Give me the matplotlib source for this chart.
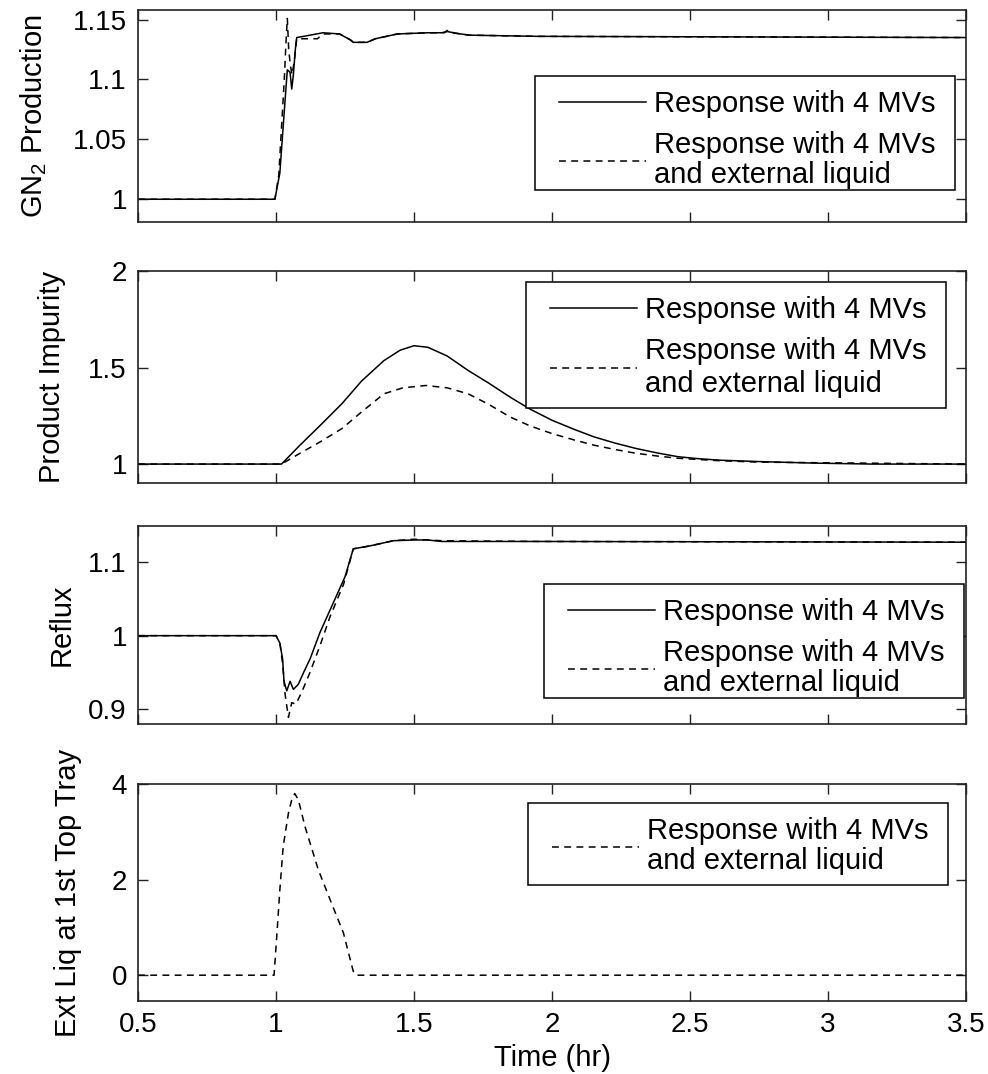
import matplotlib
matplotlib.use("Agg")
import matplotlib.pyplot as plt
from matplotlib.patches import Rectangle
from matplotlib.transforms import IdentityTransform

plt.rcParams["font.family"] = ["Liberation Sans", "DejaVu Sans"]
plt.rcParams["mathtext.fontset"] = "custom"
plt.rcParams["mathtext.rm"] = "Liberation Sans"
plt.rcParams["mathtext.default"] = "regular"

# ---- data (time in hours) ----
label_mv = "Response with 4 MVs"
label_ext = "Response with 4 MVs\nand external liquid"

# GN2 production
t_gn2_mv = [0.5, 0.996, 1.014, 1.027, 1.033, 1.041, 1.051, 1.057, 1.063, 1.070, 1.075,
            1.10, 1.17, 1.23, 1.27, 1.28, 1.33, 1.36, 1.44, 1.55, 1.60, 1.62, 1.67,
            1.70, 1.95, 3.5]
gn2_mv = [1.0, 1.0, 1.022, 1.064, 1.083, 1.108, 1.106, 1.092, 1.104, 1.125, 1.135,
          1.136, 1.139, 1.138, 1.133, 1.131, 1.131, 1.134, 1.138, 1.139, 1.139, 1.140,
          1.138, 1.137, 1.136, 1.135]
t_gn2_ext = [0.5, 0.996, 1.010, 1.020, 1.030, 1.036, 1.041, 1.046, 1.052, 1.058, 1.066,
             1.075, 1.10, 1.15, 1.17, 1.23, 1.27, 1.28, 1.33, 1.36, 1.44, 1.55, 1.61,
             1.62, 1.63, 1.67, 1.70, 1.95, 3.5]
gn2_ext = [1.0, 1.0, 1.020, 1.060, 1.100, 1.130, 1.151, 1.125, 1.112, 1.104, 1.115,
           1.134, 1.134, 1.134, 1.138, 1.138, 1.133, 1.131, 1.131, 1.134, 1.138, 1.139,
           1.139, 1.141, 1.139, 1.138, 1.137, 1.136, 1.135]

# Product impurity
t_imp_mv = [0.5, 1.02, 1.087, 1.16, 1.239, 1.31, 1.391, 1.45, 1.50, 1.55, 1.62, 1.696,
            1.77, 1.848, 1.92, 2.0, 2.08, 2.152, 2.23, 2.304, 2.38, 2.457, 2.53, 2.61,
            2.75, 2.95, 3.16, 3.5]
imp_mv = [1.0, 1.0, 1.098, 1.20, 1.313, 1.43, 1.536, 1.59, 1.613, 1.605, 1.56, 1.485,
          1.42, 1.347, 1.285, 1.227, 1.18, 1.141, 1.108, 1.081, 1.058, 1.038, 1.028,
          1.02, 1.013, 1.005, 1.0, 1.0]
t_imp_ext = [0.5, 1.02, 1.087, 1.16, 1.239, 1.31, 1.391, 1.46, 1.543, 1.62, 1.696, 1.77,
             1.848, 1.92, 2.0, 2.08, 2.152, 2.23, 2.304, 2.38, 2.457, 2.6, 2.75, 3.5]
imp_ext = [1.0, 1.0, 1.056, 1.115, 1.184, 1.27, 1.364, 1.395, 1.407, 1.395, 1.364, 1.31,
           1.244, 1.198, 1.158, 1.125, 1.098, 1.075, 1.056, 1.042, 1.03, 1.018, 1.01, 1.0]

# Reflux
t_ref_mv = [0.5, 1.0, 1.014, 1.024, 1.029, 1.039, 1.051, 1.063, 1.081, 1.10, 1.123,
            1.159, 1.196, 1.25, 1.28, 1.341, 1.425, 1.50, 1.55, 1.60, 1.95, 3.5]
ref_mv = [1.0, 1.0, 0.990, 0.968, 0.938, 0.925, 0.938, 0.927, 0.934, 0.950, 0.968,
          1.004, 1.035, 1.080, 1.118, 1.122, 1.129, 1.130, 1.130, 1.128, 1.128, 1.127]
t_ref_ext = [0.5, 1.0, 1.014, 1.024, 1.033, 1.045, 1.057, 1.072, 1.093, 1.123, 1.159,
             1.196, 1.245, 1.28, 1.341, 1.425, 1.50, 1.60, 1.95, 3.5]
ref_ext = [1.0, 1.0, 0.990, 0.962, 0.920, 0.889, 0.909, 0.907, 0.923, 0.950, 0.986,
           1.026, 1.070, 1.118, 1.122, 1.129, 1.131, 1.129, 1.128, 1.127]

# External liquid at the first top tray
t_liq_ext = [0.5, 0.993, 1.002, 1.014, 1.026, 1.045, 1.057, 1.068, 1.081, 1.105, 1.153,
             1.196, 1.244, 1.28, 1.29, 3.5]
liq_ext = [0.0, 0.0, 0.75, 1.79, 2.69, 3.39, 3.67, 3.80, 3.67, 3.11, 2.21, 1.58, 0.89,
           0.08, 0.0, 0.0]

x_ticks = [0.5, 1, 1.5, 2, 2.5, 3, 3.5]
x_tick_labels = ["0.5", "1", "1.5", "2", "2.5", "3", "3.5"]

# ---- figure ----
W, H = 988, 1074
fig = plt.figure(figsize=(W / 100, H / 100), dpi=100)

FS_TICK = 20
FS_TEXT = 21
dash = (0, (4.5, 3.5))
LEFT, RIGHT = 138, 966


def axes_px(left, top, right, bottom):
    return fig.add_axes([left / W, 1 - bottom / H, (right - left) / W, (bottom - top) / H])


def style(ax, ylim, yticks, yticklabels, ylabel, label_cx):
    ax.set_xlim(0.5, 3.5)
    ax.set_ylim(*ylim)
    ax.set_xticks(x_ticks)
    ax.set_yticks(yticks)
    ax.set_yticklabels(yticklabels)
    ax.tick_params(direction="in", length=7, width=1.0, top=True, right=True,
                   labelsize=FS_TICK, pad=8, colors="#222222", labelcolor="black")
    for sp in ax.spines.values():
        sp.set_linewidth(1.2)
        sp.set_color("#222222")
    ax.set_ylabel(ylabel, fontsize=FS_TEXT)
    # right edge of the rotated label sits about half a line right of its centre
    ax.yaxis.set_label_coords((label_cx + 16 - LEFT) / (RIGHT - LEFT), 0.5)


# legend frames: (right, top) of the box in figure pixels and paddings around the entries
PAD_L, PAD_R, PAD_T, PAD_B = 24, 20, 14, 1
legends = []


def legend(ax, box_right, box_top, extra_bottom=0, linespacing=1.1):
    leg = ax.legend(loc="upper right",
                    bbox_to_anchor=((box_right - PAD_R) / W, 1 - (box_top + PAD_T) / H),
                    bbox_transform=fig.transFigure, borderaxespad=0, borderpad=0,
                    fontsize=FS_TEXT, frameon=False, handlelength=3.0,
                    handletextpad=0.25, labelspacing=0.45)
    for txt in leg.get_texts():
        txt.set_linespacing(linespacing)
    legends.append((ax, leg, extra_bottom))
    return leg


# Panel 1: GN2 production
ax1 = axes_px(LEFT, 10, RIGHT, 222)
ax1.plot(t_gn2_mv, gn2_mv, color="black", lw=1.1, label=label_mv)
ax1.plot(t_gn2_ext, gn2_ext, color="black", lw=1.1, ls=dash, label=label_ext)
style(ax1, (0.981, 1.158), [1, 1.05, 1.1, 1.15], ["1", "1.05", "1.1", "1.15"],
      "GN$_2$ Production", 33)
ax1.set_xticklabels([])
legend(ax1, 955, 76)

# Panel 2: product impurity
ax2 = axes_px(LEFT, 271, RIGHT, 483)
ax2.plot(t_imp_mv, imp_mv, color="black", lw=1.1, label=label_mv)
ax2.plot(t_imp_ext, imp_ext, color="black", lw=1.1, ls=dash, label=label_ext)
style(ax2, (0.902, 2.0), [1, 1.5, 2], ["1", "1.5", "2"], "Product Impurity", 50)
ax2.set_xticklabels([])
legend(ax2, 946, 282, extra_bottom=9, linespacing=1.2)

# Panel 3: reflux
ax3 = axes_px(LEFT, 526, RIGHT, 724)
ax3.plot(t_ref_mv, ref_mv, color="black", lw=1.1, label=label_mv)
ax3.plot(t_ref_ext, ref_ext, color="black", lw=1.1, ls=dash, label=label_ext)
style(ax3, (0.88, 1.149), [0.9, 1.0, 1.1], ["0.9", "1", "1.1"], "Reflux", 60)
ax3.set_xticklabels([])
legend(ax3, 964, 584)

# Panel 4: external liquid at the first top tray
ax4 = axes_px(LEFT, 784, RIGHT, 1001)
ax4.plot(t_liq_ext, liq_ext, color="black", lw=1.1, ls=dash, label=label_ext)
style(ax4, (-0.54, 4.0), [0, 2, 4], ["0", "2", "4"], "Ext Liq at 1st Top Tray", 66)
ax4.set_xticklabels(x_tick_labels)
ax4.set_xlabel("Time (hr)", fontsize=FS_TEXT, labelpad=4)
legend(ax4, 948, 803, extra_bottom=9)

# draw the legend frames around the laid-out entries
fig.canvas.draw()
for ax, leg, extra in legends:
    bb = leg.get_window_extent()
    pad_b = PAD_B + extra
    frame = Rectangle((bb.x0 - PAD_L, bb.y0 - pad_b),
                      bb.width + PAD_L + PAD_R, bb.height + PAD_T + pad_b,
                      transform=IdentityTransform(), facecolor="white",
                      edgecolor="black", linewidth=1.1, zorder=4.9, clip_on=False)
    ax.add_artist(frame)

fig.savefig("out.png", dpi=100)
